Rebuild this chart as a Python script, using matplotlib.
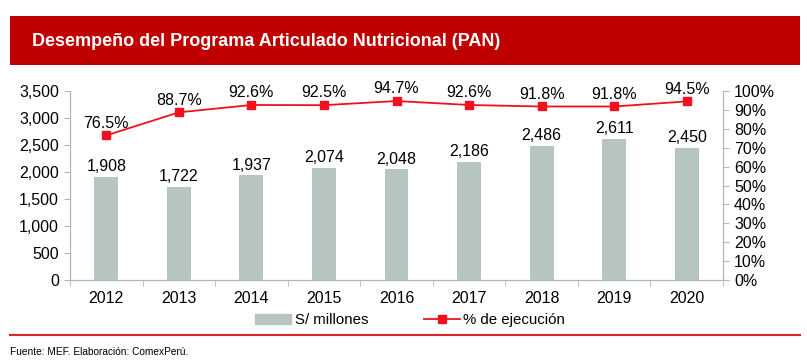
import matplotlib.pyplot as plt
from matplotlib.patches import Rectangle
from matplotlib.lines import Line2D

plt.rcParams['font.family'] = ['Liberation Sans', 'DejaVu Sans']

years = ['2012', '2013', '2014', '2015', '2016', '2017', '2018', '2019', '2020']
soles = [1908, 1722, 1937, 2074, 2048, 2186, 2486, 2611, 2450]
ejecucion = [76.5, 88.7, 92.6, 92.5, 94.7, 92.6, 91.8, 91.8, 94.5]

red = '#C00000'
bar_color = '#B6C5C1'
axis_color = '#A9BAB5'
fs = 11.5

fig = plt.figure(figsize=(8.07, 3.63), dpi=100)

# title banner
banner = Rectangle((10 / 807, 1 - 65 / 363), 790 / 807, 49 / 363, transform=fig.transFigure,
                   facecolor=red, edgecolor='none')
fig.patches.append(banner)
fig.text(32 / 807, 1 - 42 / 363, 'Desempeño del Programa Articulado Nutricional (PAN)',
         color='white', fontsize=13, fontweight='bold', va='center', ha='left')

ax = fig.add_axes([70 / 807, 1 - 280 / 363, 653 / 807, 189 / 363])
x = range(len(years))
bars = ax.bar(x, soles, width=0.33, color=bar_color, zorder=2)
for xi, v in zip(x, soles):
    ax.text(xi, v + 50, f'{v:,}', ha='center', va='bottom', fontsize=fs)

ax.set_ylim(0, 3500)
ax.set_yticks(range(0, 3501, 500))
ax.set_yticklabels([f'{v:,}' for v in range(0, 3501, 500)], fontsize=fs)
ax.set_xlim(-0.5, len(years) - 0.5)
ax.set_xticks(x)
ax.set_xticklabels(years, fontsize=fs)
ax.set_xticks([i - 0.5 for i in range(len(years) + 1)], minor=True)
ax.tick_params(axis='x', which='major', length=0, pad=8)
ax.tick_params(axis='x', which='minor', length=4, color=axis_color)
ax.tick_params(axis='y', length=4, color=axis_color, pad=4)
ax.spines['top'].set_visible(False)
for s in ['left', 'bottom', 'right']:
    ax.spines[s].set_color(axis_color)

ax2 = ax.twinx()
ax2.plot(x, ejecucion, color='#F01020', marker='s', markersize=5.5, linewidth=1.3, zorder=3)
for xi, v in zip(x, ejecucion):
    ax2.text(xi, v + 2.5, f'{v}%', ha='center', va='bottom', fontsize=fs)
ax2.set_ylim(0, 100)
ax2.set_yticks(range(0, 101, 10))
ax2.set_yticklabels([f'{v}%' for v in range(0, 101, 10)], fontsize=fs)
ax2.tick_params(axis='y', length=4, color=axis_color, pad=4)
ax2.spines['top'].set_visible(False)
for s in ['left', 'bottom', 'right']:
    ax2.spines[s].set_color(axis_color)

handles = [Rectangle((0, 0), 1, 1, color=bar_color),
           Line2D([], [], color='#F01020', marker='s', markersize=5.5, linewidth=1.3)]
fig.legend(handles, ['S/ millones', '% de ejecución'], loc='center',
           bbox_to_anchor=(410 / 807, 1 - 320 / 363), ncol=2, frameon=False,
           fontsize=10.8, handlelength=2.4, handletextpad=0.25, columnspacing=3.7)

fig.add_artist(Line2D([10 / 807, 800 / 807], [1 - 335 / 363, 1 - 335 / 363],
                      transform=fig.transFigure, color='#E0242C', linewidth=1.5))
fig.text(10 / 807, 1 - 352 / 363, 'Fuente: MEF. Elaboración: ComexPerú.', fontsize=7.3,
         va='center', ha='left')

fig.savefig('out.png', dpi=100)
